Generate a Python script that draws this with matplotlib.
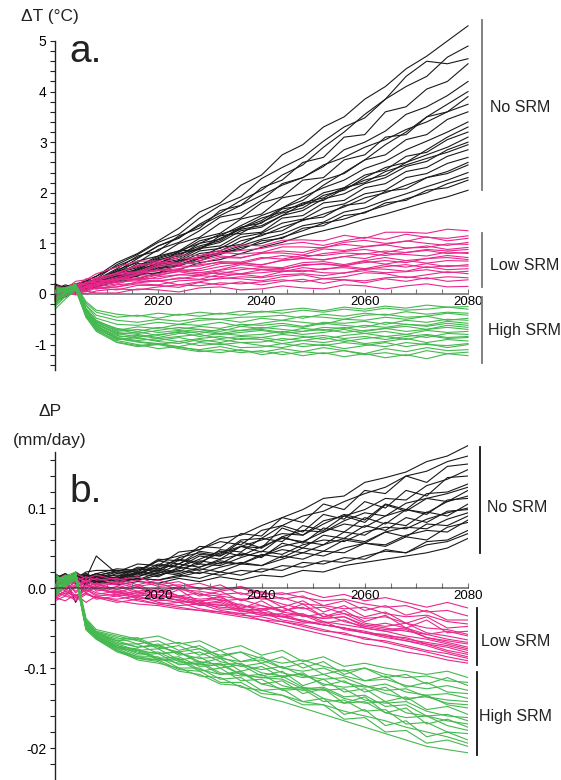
import matplotlib
matplotlib.use("Agg")
import matplotlib.pyplot as plt
from matplotlib.ticker import FixedLocator, FixedFormatter, MultipleLocator

plt.rcParams['font.family'] = ['Liberation Sans', 'DejaVu Sans']

# ---------------- data ----------------
years = [2000, 2002, 2004, 2006, 2008, 2012, 2016, 2020, 2024, 2028, 2032, 2036,
         2040, 2044, 2048, 2052, 2056, 2060, 2064, 2068, 2072, 2076, 2080]

# Panel a: temperature change (deg C)
dT_no_srm = [
    [0.05, 0.12, 0.18, 0.25, 0.35, 0.62, 0.80, 1.05, 1.30, 1.62, 1.80, 2.15, 2.35, 2.75, 2.95, 3.30, 3.50, 3.85, 4.10, 4.45, 4.70, 5.00, 5.30],
    [-0.05, 0.08, 0.15, 0.22, 0.30, 0.58, 0.78, 1.02, 1.18, 1.50, 1.75, 1.92, 2.28, 2.50, 2.70, 3.02, 3.30, 3.48, 3.85, 4.10, 4.30, 4.68, 4.90],
    [0.10, 0.15, 0.20, 0.18, 0.28, 0.50, 0.75, 0.85, 1.15, 1.30, 1.65, 1.75, 2.10, 2.25, 2.60, 2.70, 3.10, 3.15, 3.60, 3.70, 4.05, 4.20, 4.55],
    [-0.10, 0.02, 0.12, 0.20, 0.25, 0.48, 0.62, 0.88, 1.02, 1.25, 1.52, 1.60, 1.85, 2.18, 2.30, 2.52, 2.85, 3.00, 3.22, 3.55, 3.70, 3.92, 4.20],
    [0.00, 0.10, 0.05, 0.18, 0.30, 0.42, 0.65, 0.75, 1.00, 1.12, 1.40, 1.50, 1.80, 1.92, 2.25, 2.30, 2.65, 2.75, 3.10, 3.15, 3.50, 3.60, 3.90],
    [0.15, 0.10, 0.20, 0.25, 0.22, 0.45, 0.55, 0.75, 0.85, 1.10, 1.20, 1.48, 1.58, 1.90, 1.98, 2.25, 2.38, 2.65, 2.75, 3.05, 3.15, 3.45, 3.60],
    [-0.05, 0.05, 0.15, 0.10, 0.28, 0.42, 0.52, 0.70, 0.82, 1.05, 1.15, 1.35, 1.55, 1.70, 1.92, 2.10, 2.25, 2.48, 2.62, 2.85, 3.02, 3.20, 3.40],
    [0.05, 0.00, 0.10, 0.22, 0.20, 0.40, 0.48, 0.68, 0.75, 1.00, 1.08, 1.32, 1.40, 1.68, 1.75, 2.00, 2.10, 2.35, 2.45, 2.72, 2.80, 3.05, 3.20],
    [-0.15, -0.05, 0.08, 0.12, 0.25, 0.36, 0.45, 0.62, 0.72, 0.92, 1.02, 1.25, 1.32, 1.55, 1.65, 1.88, 1.98, 2.18, 2.30, 2.52, 2.62, 2.85, 3.00],
    [0.10, 0.18, 0.12, 0.20, 0.18, 0.35, 0.42, 0.60, 0.68, 0.90, 0.95, 1.18, 1.22, 1.50, 1.55, 1.80, 1.85, 2.10, 2.18, 2.42, 2.50, 2.72, 2.85],
    [0.00, 0.08, 0.15, 0.12, 0.20, 0.32, 0.40, 0.58, 0.65, 0.85, 0.90, 1.12, 1.20, 1.40, 1.48, 1.70, 1.78, 1.98, 2.05, 2.30, 2.38, 2.58, 2.70],
    [-0.10, 0.00, 0.05, 0.15, 0.18, 0.28, 0.42, 0.48, 0.66, 0.72, 0.92, 0.98, 1.18, 1.25, 1.47, 1.52, 1.75, 1.80, 2.03, 2.08, 2.30, 2.38, 2.55],
    [0.20, 0.12, 0.08, 0.15, 0.22, 0.30, 0.35, 0.52, 0.58, 0.72, 0.82, 0.95, 1.08, 1.18, 1.35, 1.42, 1.62, 1.70, 1.85, 1.98, 2.12, 2.25, 2.40],
    [0.05, 0.10, 0.02, 0.12, 0.15, 0.25, 0.38, 0.42, 0.58, 0.65, 0.82, 0.88, 1.05, 1.10, 1.30, 1.35, 1.55, 1.60, 1.80, 1.85, 2.05, 2.10, 2.25],
    [-0.05, 0.05, 0.10, 0.08, 0.15, 0.24, 0.30, 0.42, 0.48, 0.62, 0.68, 0.80, 0.92, 1.02, 1.15, 1.25, 1.35, 1.48, 1.58, 1.70, 1.82, 1.92, 2.05],
    [0.00, 0.05, 0.12, 0.20, 0.28, 0.45, 0.70, 0.95, 1.10, 1.38, 1.60, 1.85, 2.05, 2.35, 2.55, 2.90, 3.20, 3.55, 3.85, 4.30, 4.60, 4.55, 4.65],
    [0.08, 0.02, 0.10, 0.15, 0.12, 0.30, 0.48, 0.60, 0.78, 0.95, 1.05, 1.30, 1.45, 1.70, 1.85, 2.15, 2.40, 2.65, 2.95, 3.20, 3.50, 3.75, 4.00],
    [-0.08, 0.10, 0.18, 0.26, 0.35, 0.55, 0.72, 0.95, 1.12, 1.35, 1.55, 1.75, 1.95, 2.15, 2.30, 2.55, 2.70, 2.90, 3.05, 3.25, 3.40, 3.60, 3.75],
    [0.12, 0.05, 0.15, 0.20, 0.30, 0.38, 0.60, 0.58, 0.85, 0.88, 1.15, 1.20, 1.42, 1.60, 1.70, 1.95, 2.05, 2.30, 2.50, 2.60, 2.85, 3.10, 3.30],
    [-0.02, 0.08, 0.04, 0.18, 0.22, 0.34, 0.50, 0.66, 0.80, 0.88, 1.10, 1.28, 1.35, 1.55, 1.78, 1.85, 2.08, 2.25, 2.35, 2.60, 2.75, 2.90, 3.10],
    [0.18, 0.10, 0.12, 0.24, 0.28, 0.42, 0.55, 0.72, 0.85, 1.00, 1.18, 1.30, 1.50, 1.62, 1.80, 1.90, 2.10, 2.20, 2.42, 2.55, 2.68, 2.80, 2.95],
    [0.02, -0.06, 0.08, 0.10, 0.20, 0.26, 0.36, 0.55, 0.62, 0.80, 0.85, 1.05, 1.15, 1.32, 1.45, 1.58, 1.72, 1.90, 2.00, 2.15, 2.30, 2.42, 2.60],
    [-0.12, 0.02, 0.12, 0.06, 0.18, 0.28, 0.40, 0.50, 0.55, 0.70, 0.78, 0.92, 1.00, 1.12, 1.25, 1.40, 1.48, 1.62, 1.75, 1.88, 2.00, 2.18, 2.30],
]

dT_low_srm = [
    [0.05, 0.10, 0.25, 0.28, 0.40, 0.53, 0.65, 0.65, 0.77, 0.76, 0.86, 0.97, 0.95, 1.06, 1.07, 1.05, 1.16, 1.10, 1.22, 1.22, 1.20, 1.28, 1.25],
    [-0.10, 0.08, 0.15, 0.30, 0.30, 0.41, 0.57, 0.63, 0.61, 0.75, 0.82, 0.79, 0.82, 0.93, 0.93, 0.91, 1.02, 1.06, 1.00, 1.04, 1.13, 1.05, 1.10],
    [0.15, 0.12, 0.20, 0.18, 0.32, 0.41, 0.44, 0.59, 0.60, 0.60, 0.72, 0.71, 0.81, 0.81, 0.77, 0.89, 0.86, 0.93, 0.97, 0.91, 0.92, 0.99, 0.98],
    [0.00, 0.12, 0.10, 0.24, 0.22, 0.33, 0.44, 0.46, 0.55, 0.55, 0.64, 0.63, 0.72, 0.69, 0.76, 0.76, 0.81, 0.79, 0.85, 0.82, 0.88, 0.85, 0.88],
    [-0.05, 0.05, 0.18, 0.15, 0.26, 0.28, 0.40, 0.49, 0.45, 0.50, 0.60, 0.62, 0.57, 0.67, 0.71, 0.67, 0.74, 0.70, 0.80, 0.78, 0.75, 0.83, 0.80],
    [0.10, 0.05, 0.12, 0.20, 0.18, 0.26, 0.38, 0.36, 0.46, 0.42, 0.48, 0.58, 0.54, 0.52, 0.62, 0.64, 0.58, 0.66, 0.72, 0.66, 0.70, 0.76, 0.72],
    [-0.15, 0.02, 0.08, 0.14, 0.22, 0.30, 0.28, 0.38, 0.44, 0.38, 0.47, 0.52, 0.48, 0.48, 0.58, 0.59, 0.55, 0.65, 0.59, 0.66, 0.61, 0.66, 0.65],
    [0.05, 0.08, 0.05, 0.16, 0.14, 0.20, 0.31, 0.30, 0.38, 0.36, 0.44, 0.40, 0.48, 0.44, 0.52, 0.48, 0.55, 0.50, 0.58, 0.53, 0.60, 0.54, 0.58],
    [-0.08, 0.00, 0.12, 0.08, 0.18, 0.23, 0.29, 0.25, 0.32, 0.29, 0.39, 0.39, 0.34, 0.44, 0.47, 0.42, 0.41, 0.50, 0.49, 0.45, 0.54, 0.48, 0.50],
    [0.12, 0.06, 0.04, 0.12, 0.10, 0.14, 0.24, 0.26, 0.18, 0.24, 0.32, 0.30, 0.26, 0.34, 0.38, 0.30, 0.34, 0.42, 0.40, 0.32, 0.38, 0.44, 0.40],
    [-0.10, -0.04, 0.06, 0.04, 0.12, 0.08, 0.17, 0.17, 0.13, 0.23, 0.18, 0.24, 0.18, 0.25, 0.29, 0.21, 0.28, 0.22, 0.30, 0.25, 0.32, 0.25, 0.28],
    [0.00, 0.04, -0.02, 0.06, 0.02, 0.02, 0.10, 0.08, 0.04, 0.12, 0.14, 0.08, 0.10, 0.16, 0.12, 0.10, 0.18, 0.16, 0.10, 0.16, 0.20, 0.14, 0.15],
    [0.00, 0.08, 0.18, 0.22, 0.28, 0.42, 0.55, 0.60, 0.72, 0.70, 0.80, 0.86, 0.90, 0.98, 1.02, 0.96, 1.05, 1.12, 1.08, 1.18, 1.12, 1.10, 1.15],
    [0.08, 0.02, 0.10, 0.22, 0.26, 0.38, 0.42, 0.55, 0.58, 0.66, 0.75, 0.72, 0.80, 0.85, 0.82, 0.92, 0.98, 0.94, 0.98, 1.05, 1.00, 0.96, 1.02],
    [-0.12, -0.02, 0.06, 0.14, 0.20, 0.30, 0.40, 0.46, 0.50, 0.58, 0.62, 0.60, 0.70, 0.76, 0.72, 0.80, 0.84, 0.88, 0.82, 0.90, 0.95, 0.88, 0.92],
    [0.04, 0.10, 0.14, 0.12, 0.20, 0.28, 0.32, 0.40, 0.48, 0.46, 0.54, 0.60, 0.58, 0.66, 0.70, 0.68, 0.74, 0.80, 0.76, 0.82, 0.86, 0.80, 0.82],
    [-0.06, 0.02, 0.10, 0.08, 0.16, 0.24, 0.26, 0.34, 0.38, 0.42, 0.40, 0.48, 0.52, 0.50, 0.56, 0.60, 0.56, 0.62, 0.66, 0.62, 0.70, 0.72, 0.68],
    [0.10, 0.04, 0.06, 0.14, 0.10, 0.18, 0.22, 0.26, 0.30, 0.36, 0.34, 0.40, 0.42, 0.46, 0.44, 0.50, 0.52, 0.48, 0.54, 0.58, 0.52, 0.56, 0.55],
    [-0.04, 0.06, 0.02, 0.08, 0.12, 0.14, 0.20, 0.18, 0.26, 0.28, 0.30, 0.34, 0.32, 0.38, 0.40, 0.36, 0.42, 0.46, 0.42, 0.44, 0.48, 0.42, 0.45],
    [0.06, -0.02, 0.04, 0.00, 0.06, 0.10, 0.08, 0.14, 0.18, 0.16, 0.22, 0.20, 0.24, 0.28, 0.24, 0.30, 0.28, 0.26, 0.32, 0.34, 0.30, 0.34, 0.32],
]

dT_high_srm = [
    [0.10, 0.12, 0.18, -0.15, -0.32, -0.40, -0.44, -0.38, -0.42, -0.36, -0.40, -0.34, -0.36, -0.32, -0.28, -0.33, -0.26, -0.30, -0.24, -0.28, -0.22, -0.26, -0.25],
    [-0.10, 0.05, 0.15, -0.22, -0.42, -0.52, -0.56, -0.50, -0.54, -0.48, -0.50, -0.46, -0.45, -0.42, -0.48, -0.40, -0.44, -0.38, -0.42, -0.35, -0.40, -0.36, -0.38],
    [0.05, 0.10, 0.20, -0.30, -0.55, -0.72, -0.65, -0.68, -0.60, -0.62, -0.56, -0.64, -0.58, -0.52, -0.56, -0.60, -0.50, -0.52, -0.46, -0.50, -0.44, -0.52, -0.48],
    [-0.20, 0.00, 0.12, -0.28, -0.52, -0.70, -0.78, -0.72, -0.66, -0.70, -0.74, -0.64, -0.68, -0.62, -0.66, -0.58, -0.62, -0.66, -0.56, -0.60, -0.62, -0.54, -0.58],
    [0.15, 0.08, 0.16, -0.35, -0.60, -0.80, -0.75, -0.82, -0.74, -0.70, -0.78, -0.72, -0.70, -0.76, -0.68, -0.72, -0.66, -0.74, -0.68, -0.64, -0.70, -0.62, -0.66],
    [-0.05, 0.10, 0.18, -0.32, -0.58, -0.78, -0.85, -0.80, -0.76, -0.84, -0.78, -0.82, -0.80, -0.74, -0.80, -0.76, -0.70, -0.78, -0.74, -0.80, -0.72, -0.76, -0.74],
    [0.00, 0.06, 0.14, -0.38, -0.62, -0.85, -0.82, -0.88, -0.84, -0.80, -0.88, -0.84, -0.86, -0.80, -0.84, -0.90, -0.82, -0.78, -0.84, -0.80, -0.86, -0.78, -0.80],
    [-0.25, -0.05, 0.10, -0.40, -0.64, -0.82, -0.88, -0.92, -0.86, -0.94, -0.90, -0.96, -0.95, -0.88, -0.92, -0.86, -0.94, -0.88, -0.84, -0.90, -0.82, -0.88, -0.86],
    [0.08, 0.12, 0.16, -0.42, -0.68, -0.90, -0.86, -0.94, -0.98, -0.90, -0.96, -0.88, -0.90, -0.98, -0.92, -0.96, -0.90, -0.98, -0.94, -0.88, -0.96, -0.90, -0.93],
    [-0.15, 0.02, 0.12, -0.45, -0.66, -0.88, -0.95, -1.00, -0.94, -1.02, -0.98, -1.06, -1.05, -0.98, -1.04, -1.00, -1.08, -1.02, -0.96, -1.04, -0.98, -1.06, -1.00],
    [0.02, 0.08, 0.15, -0.40, -0.70, -0.95, -1.02, -0.98, -1.06, -1.10, -1.04, -1.12, -1.15, -1.08, -1.14, -1.06, -1.12, -1.18, -1.08, -1.14, -1.06, -1.12, -1.10],
    [-0.30, -0.10, 0.08, -0.44, -0.72, -0.92, -1.00, -1.08, -1.04, -1.12, -1.16, -1.10, -1.20, -1.14, -1.22, -1.16, -1.24, -1.18, -1.26, -1.20, -1.28, -1.18, -1.22],
    [0.05, 0.08, 0.16, -0.18, -0.36, -0.46, -0.42, -0.48, -0.40, -0.44, -0.38, -0.42, -0.34, -0.38, -0.32, -0.36, -0.30, -0.34, -0.28, -0.32, -0.30, -0.26, -0.30],
    [-0.18, 0.00, 0.14, -0.22, -0.48, -0.60, -0.62, -0.56, -0.60, -0.52, -0.50, -0.56, -0.48, -0.52, -0.44, -0.46, -0.50, -0.42, -0.40, -0.46, -0.44, -0.38, -0.42],
    [0.12, 0.10, 0.18, -0.28, -0.54, -0.68, -0.74, -0.66, -0.70, -0.64, -0.68, -0.60, -0.62, -0.58, -0.64, -0.56, -0.58, -0.54, -0.60, -0.52, -0.56, -0.50, -0.52],
    [-0.08, 0.04, 0.12, -0.30, -0.56, -0.74, -0.70, -0.76, -0.72, -0.78, -0.70, -0.72, -0.66, -0.70, -0.74, -0.66, -0.68, -0.62, -0.66, -0.60, -0.64, -0.58, -0.62],
    [0.02, 0.12, 0.14, -0.34, -0.60, -0.76, -0.80, -0.86, -0.78, -0.74, -0.80, -0.76, -0.72, -0.78, -0.74, -0.70, -0.76, -0.72, -0.68, -0.74, -0.70, -0.66, -0.70],
    [-0.12, 0.02, 0.10, -0.40, -0.64, -0.86, -0.92, -0.88, -0.94, -0.88, -0.84, -0.90, -0.86, -0.92, -0.86, -0.82, -0.88, -0.84, -0.90, -0.84, -0.80, -0.86, -0.84],
    [0.10, 0.06, 0.16, -0.42, -0.68, -0.88, -0.94, -0.98, -1.04, -0.96, -1.00, -0.96, -1.02, -1.06, -0.98, -1.02, -0.96, -1.00, -1.04, -0.96, -1.00, -1.02, -0.98],
    [-0.22, -0.04, 0.10, -0.46, -0.74, -0.96, -1.04, -1.00, -1.08, -1.14, -1.10, -1.16, -1.12, -1.20, -1.14, -1.18, -1.12, -1.20, -1.16, -1.22, -1.12, -1.18, -1.15],
]

# Panel b: precipitation change (mm/day)
dP_no_srm = [
    [0.010, 0.015, 0.008, 0.018, 0.012, 0.020, 0.030, 0.028, 0.045, 0.048, 0.062, 0.066, 0.078, 0.088, 0.098, 0.112, 0.115, 0.132, 0.138, 0.145, 0.158, 0.165, 0.178],
    [0.005, 0.012, 0.018, 0.010, 0.015, 0.022, 0.020, 0.036, 0.034, 0.052, 0.050, 0.068, 0.065, 0.088, 0.082, 0.105, 0.098, 0.122, 0.118, 0.140, 0.132, 0.152, 0.155],
    [0.015, 0.008, 0.012, 0.020, 0.022, 0.022, 0.020, 0.034, 0.030, 0.046, 0.042, 0.060, 0.062, 0.078, 0.070, 0.092, 0.086, 0.108, 0.100, 0.122, 0.115, 0.138, 0.140],
    [0.000, 0.010, 0.020, 0.012, 0.040, 0.018, 0.024, 0.022, 0.038, 0.044, 0.040, 0.058, 0.050, 0.075, 0.066, 0.080, 0.092, 0.085, 0.105, 0.098, 0.118, 0.120, 0.130],
    [0.012, 0.018, 0.010, 0.014, 0.008, 0.012, 0.024, 0.020, 0.035, 0.030, 0.048, 0.045, 0.062, 0.058, 0.078, 0.072, 0.090, 0.082, 0.104, 0.096, 0.112, 0.108, 0.122],
    [0.008, 0.004, 0.014, 0.018, 0.010, 0.018, 0.016, 0.028, 0.026, 0.040, 0.036, 0.052, 0.045, 0.064, 0.056, 0.075, 0.070, 0.088, 0.080, 0.098, 0.092, 0.110, 0.112],
    [0.018, 0.010, -0.018, 0.008, 0.012, 0.010, 0.020, 0.018, 0.030, 0.026, 0.036, 0.042, 0.040, 0.052, 0.058, 0.054, 0.070, 0.066, 0.082, 0.078, 0.095, 0.090, 0.105],
    [0.004, 0.012, 0.008, 0.016, 0.014, 0.016, 0.014, 0.024, 0.020, 0.034, 0.030, 0.044, 0.038, 0.056, 0.050, 0.066, 0.062, 0.078, 0.072, 0.088, 0.082, 0.096, 0.098],
    [0.010, 0.016, 0.012, 0.006, 0.012, 0.008, 0.018, 0.014, 0.026, 0.022, 0.032, 0.030, 0.042, 0.038, 0.050, 0.046, 0.060, 0.056, 0.070, 0.064, 0.080, 0.078, 0.090],
    [0.014, 0.008, 0.016, 0.012, 0.018, 0.012, 0.010, 0.020, 0.016, 0.024, 0.020, 0.030, 0.028, 0.040, 0.036, 0.046, 0.044, 0.056, 0.052, 0.064, 0.060, 0.076, 0.082],
    [0.006, 0.014, 0.010, 0.016, 0.008, 0.006, 0.012, 0.010, 0.016, 0.012, 0.020, 0.016, 0.024, 0.022, 0.032, 0.030, 0.038, 0.036, 0.048, 0.044, 0.058, 0.060, 0.072],
    [0.012, 0.006, 0.010, 0.004, 0.010, 0.004, 0.008, 0.006, 0.012, 0.008, 0.014, 0.010, 0.016, 0.014, 0.022, 0.020, 0.028, 0.032, 0.036, 0.040, 0.044, 0.050, 0.062],
    [0.014, 0.008, 0.016, 0.012, 0.018, 0.024, 0.022, 0.034, 0.040, 0.048, 0.058, 0.054, 0.072, 0.078, 0.090, 0.096, 0.108, 0.118, 0.126, 0.140, 0.146, 0.158, 0.165],
    [0.002, 0.010, 0.006, 0.014, 0.010, 0.014, 0.026, 0.024, 0.030, 0.042, 0.040, 0.052, 0.060, 0.068, 0.066, 0.084, 0.090, 0.098, 0.112, 0.110, 0.128, 0.136, 0.148],
    [0.016, 0.012, 0.018, 0.010, 0.016, 0.020, 0.018, 0.026, 0.036, 0.032, 0.044, 0.052, 0.050, 0.064, 0.072, 0.070, 0.084, 0.094, 0.090, 0.106, 0.112, 0.118, 0.126],
    [0.008, 0.016, 0.012, 0.004, 0.014, 0.012, 0.018, 0.030, 0.026, 0.036, 0.046, 0.040, 0.052, 0.062, 0.058, 0.070, 0.080, 0.076, 0.090, 0.098, 0.094, 0.108, 0.115],
    [0.010, 0.004, 0.012, 0.016, 0.006, 0.012, 0.020, 0.016, 0.024, 0.030, 0.028, 0.038, 0.046, 0.042, 0.054, 0.060, 0.058, 0.070, 0.076, 0.074, 0.086, 0.094, 0.100],
    [0.016, 0.010, 0.006, 0.014, 0.018, 0.010, 0.014, 0.022, 0.018, 0.026, 0.034, 0.030, 0.040, 0.048, 0.044, 0.054, 0.062, 0.058, 0.070, 0.076, 0.074, 0.086, 0.094],
    [0.006, 0.012, 0.016, 0.010, 0.006, 0.014, 0.010, 0.016, 0.022, 0.018, 0.026, 0.032, 0.028, 0.036, 0.044, 0.040, 0.050, 0.056, 0.054, 0.066, 0.072, 0.070, 0.085],
    [0.012, 0.018, 0.008, 0.012, 0.016, 0.008, 0.012, 0.010, 0.014, 0.020, 0.016, 0.022, 0.020, 0.028, 0.026, 0.034, 0.032, 0.040, 0.046, 0.044, 0.054, 0.058, 0.068],
]

dP_low_srm = [
    [0.010, 0.016, 0.008, 0.014, 0.010, 0.012, 0.004, 0.010, 0.002, 0.006, -0.002, 0.002, -0.006, -0.008, -0.004, -0.012, -0.008, -0.016, -0.012, -0.018, -0.024, -0.018, -0.025],
    [0.015, 0.008, 0.018, 0.012, 0.016, 0.010, 0.014, 0.004, 0.008, -0.002, 0.004, -0.008, -0.004, -0.014, -0.010, -0.022, -0.016, -0.028, -0.022, -0.034, -0.028, -0.040, -0.040],
    [0.005, -0.004, 0.010, 0.002, 0.006, -0.002, 0.004, -0.006, 0.000, -0.010, -0.004, -0.016, -0.010, -0.024, -0.016, -0.030, -0.022, -0.036, -0.030, -0.044, -0.036, -0.050, -0.048],
    [0.000, 0.010, -0.006, 0.004, -0.002, -0.006, 0.002, -0.012, -0.002, -0.018, -0.010, -0.026, -0.016, -0.030, -0.020, -0.036, -0.028, -0.042, -0.034, -0.050, -0.040, -0.056, -0.054],
    [-0.005, 0.004, -0.010, -0.002, -0.008, -0.004, -0.014, -0.010, -0.012, -0.020, -0.016, -0.026, -0.028, -0.024, -0.036, -0.032, -0.042, -0.048, -0.044, -0.050, -0.058, -0.054, -0.060],
    [0.008, 0.002, 0.012, 0.000, 0.006, 0.004, -0.004, 0.000, -0.010, -0.006, -0.016, -0.014, -0.022, -0.028, -0.024, -0.036, -0.032, -0.044, -0.048, -0.044, -0.056, -0.060, -0.065],
    [-0.010, -0.004, -0.012, -0.002, -0.010, -0.008, -0.012, -0.016, -0.014, -0.022, -0.020, -0.030, -0.026, -0.036, -0.034, -0.044, -0.040, -0.050, -0.054, -0.052, -0.062, -0.066, -0.070],
    [0.004, 0.012, 0.000, 0.008, -0.004, 0.002, -0.006, -0.002, -0.010, -0.014, -0.012, -0.022, -0.026, -0.024, -0.034, -0.038, -0.036, -0.048, -0.052, -0.050, -0.062, -0.068, -0.074],
    [-0.014, -0.006, -0.016, -0.008, -0.012, -0.014, -0.010, -0.018, -0.022, -0.020, -0.028, -0.032, -0.030, -0.040, -0.044, -0.042, -0.052, -0.056, -0.058, -0.064, -0.068, -0.072, -0.078],
    [0.000, -0.008, 0.004, -0.006, 0.002, -0.004, -0.010, -0.008, -0.016, -0.020, -0.018, -0.028, -0.034, -0.032, -0.042, -0.046, -0.050, -0.056, -0.060, -0.066, -0.070, -0.078, -0.083],
    [-0.008, 0.000, -0.012, -0.006, -0.014, -0.010, -0.016, -0.020, -0.018, -0.026, -0.030, -0.032, -0.040, -0.042, -0.048, -0.054, -0.056, -0.064, -0.066, -0.072, -0.078, -0.082, -0.088],
    [-0.012, -0.016, -0.008, -0.018, -0.010, -0.016, -0.020, -0.022, -0.026, -0.028, -0.032, -0.036, -0.040, -0.046, -0.052, -0.058, -0.064, -0.070, -0.074, -0.080, -0.084, -0.090, -0.094],
    [0.012, 0.006, 0.014, 0.008, 0.012, 0.006, 0.010, 0.002, 0.004, 0.000, -0.004, 0.000, -0.008, -0.006, -0.012, -0.016, -0.014, -0.020, -0.024, -0.022, -0.030, -0.028, -0.035],
    [-0.006, 0.004, 0.000, 0.010, 0.004, 0.008, 0.002, 0.006, -0.002, -0.004, -0.008, -0.006, -0.014, -0.012, -0.020, -0.022, -0.026, -0.024, -0.032, -0.036, -0.034, -0.042, -0.045],
    [0.010, 0.014, 0.004, 0.010, 0.002, 0.006, 0.000, -0.004, 0.002, -0.008, -0.010, -0.014, -0.012, -0.020, -0.026, -0.024, -0.032, -0.038, -0.036, -0.044, -0.050, -0.052, -0.058],
    [-0.004, -0.010, 0.002, -0.004, 0.004, -0.002, -0.008, -0.004, -0.012, -0.016, -0.014, -0.024, -0.022, -0.030, -0.034, -0.038, -0.036, -0.046, -0.050, -0.054, -0.058, -0.064, -0.068],
    [0.002, 0.008, -0.004, 0.004, 0.000, -0.008, -0.004, -0.012, -0.010, -0.018, -0.022, -0.020, -0.030, -0.034, -0.032, -0.042, -0.046, -0.050, -0.054, -0.060, -0.064, -0.070, -0.076],
    [-0.012, -0.004, -0.010, 0.000, -0.006, -0.010, -0.006, -0.014, -0.018, -0.016, -0.026, -0.028, -0.034, -0.036, -0.042, -0.046, -0.050, -0.054, -0.060, -0.062, -0.070, -0.074, -0.081],
    [0.006, -0.002, 0.008, -0.004, 0.000, -0.006, -0.010, -0.008, -0.016, -0.020, -0.024, -0.026, -0.032, -0.036, -0.040, -0.046, -0.050, -0.056, -0.062, -0.066, -0.072, -0.080, -0.086],
    [-0.016, -0.010, -0.014, -0.006, -0.012, -0.018, -0.014, -0.020, -0.024, -0.028, -0.030, -0.034, -0.036, -0.042, -0.046, -0.052, -0.058, -0.062, -0.068, -0.074, -0.080, -0.086, -0.091],
]

dP_high_srm = [
    [0.010, 0.015, 0.020, -0.038, -0.052, -0.058, -0.064, -0.060, -0.070, -0.066, -0.078, -0.072, -0.084, -0.078, -0.092, -0.086, -0.098, -0.094, -0.100, -0.104, -0.108, -0.104, -0.112],
    [-0.005, 0.008, 0.016, -0.042, -0.055, -0.062, -0.070, -0.066, -0.078, -0.072, -0.086, -0.080, -0.094, -0.086, -0.100, -0.092, -0.108, -0.100, -0.112, -0.108, -0.120, -0.112, -0.122],
    [0.015, 0.010, 0.018, -0.040, -0.056, -0.066, -0.064, -0.076, -0.072, -0.084, -0.078, -0.092, -0.086, -0.100, -0.094, -0.108, -0.102, -0.116, -0.110, -0.124, -0.118, -0.130, -0.132],
    [0.000, 0.012, 0.014, -0.044, -0.058, -0.066, -0.074, -0.072, -0.082, -0.088, -0.086, -0.096, -0.102, -0.098, -0.110, -0.114, -0.112, -0.122, -0.128, -0.126, -0.136, -0.140, -0.142],
    [0.018, 0.006, 0.020, -0.046, -0.057, -0.070, -0.070, -0.082, -0.080, -0.094, -0.088, -0.104, -0.098, -0.112, -0.106, -0.122, -0.116, -0.130, -0.124, -0.140, -0.134, -0.146, -0.150],
    [-0.008, 0.004, 0.012, -0.043, -0.060, -0.072, -0.078, -0.076, -0.090, -0.086, -0.100, -0.096, -0.110, -0.104, -0.122, -0.114, -0.130, -0.126, -0.142, -0.136, -0.152, -0.148, -0.158],
    [0.006, 0.014, 0.016, -0.048, -0.059, -0.074, -0.076, -0.088, -0.086, -0.098, -0.096, -0.108, -0.112, -0.114, -0.126, -0.124, -0.136, -0.134, -0.148, -0.146, -0.160, -0.158, -0.166],
    [-0.010, 0.002, 0.010, -0.045, -0.062, -0.074, -0.084, -0.082, -0.096, -0.094, -0.108, -0.104, -0.120, -0.116, -0.132, -0.126, -0.144, -0.136, -0.156, -0.150, -0.170, -0.164, -0.174],
    [0.012, 0.010, 0.018, -0.050, -0.060, -0.076, -0.078, -0.090, -0.090, -0.104, -0.100, -0.116, -0.114, -0.128, -0.126, -0.142, -0.140, -0.154, -0.152, -0.170, -0.168, -0.180, -0.182],
    [-0.004, 0.006, 0.012, -0.047, -0.063, -0.078, -0.086, -0.086, -0.100, -0.100, -0.114, -0.112, -0.128, -0.126, -0.142, -0.138, -0.158, -0.152, -0.172, -0.166, -0.186, -0.180, -0.190],
    [0.004, 0.016, 0.014, -0.050, -0.062, -0.078, -0.088, -0.090, -0.102, -0.104, -0.118, -0.118, -0.132, -0.134, -0.146, -0.146, -0.164, -0.162, -0.180, -0.178, -0.194, -0.190, -0.198],
    [-0.006, 0.008, 0.016, -0.052, -0.064, -0.080, -0.088, -0.092, -0.104, -0.108, -0.120, -0.122, -0.136, -0.142, -0.150, -0.158, -0.166, -0.174, -0.182, -0.190, -0.198, -0.202, -0.206],
    [0.006, 0.012, 0.018, -0.040, -0.054, -0.060, -0.066, -0.072, -0.068, -0.076, -0.084, -0.080, -0.088, -0.094, -0.090, -0.098, -0.104, -0.100, -0.108, -0.112, -0.110, -0.116, -0.118],
    [-0.002, 0.010, 0.014, -0.041, -0.056, -0.064, -0.062, -0.074, -0.080, -0.076, -0.088, -0.092, -0.090, -0.100, -0.104, -0.100, -0.110, -0.116, -0.114, -0.122, -0.126, -0.122, -0.128],
    [0.014, 0.004, 0.016, -0.044, -0.057, -0.068, -0.074, -0.070, -0.084, -0.080, -0.092, -0.098, -0.094, -0.106, -0.112, -0.108, -0.118, -0.124, -0.120, -0.130, -0.134, -0.132, -0.138],
    [-0.006, 0.008, 0.018, -0.046, -0.059, -0.070, -0.078, -0.082, -0.080, -0.092, -0.096, -0.094, -0.106, -0.110, -0.108, -0.120, -0.124, -0.122, -0.132, -0.138, -0.136, -0.144, -0.146],
    [0.008, 0.012, 0.016, -0.048, -0.060, -0.072, -0.082, -0.080, -0.092, -0.096, -0.094, -0.108, -0.112, -0.110, -0.124, -0.128, -0.126, -0.140, -0.144, -0.142, -0.154, -0.160, -0.162],
    [-0.010, 0.006, 0.014, -0.049, -0.061, -0.074, -0.080, -0.088, -0.094, -0.092, -0.106, -0.110, -0.108, -0.122, -0.128, -0.126, -0.138, -0.144, -0.142, -0.156, -0.160, -0.166, -0.170],
    [0.002, 0.014, 0.012, -0.050, -0.062, -0.076, -0.086, -0.090, -0.088, -0.102, -0.108, -0.106, -0.120, -0.126, -0.124, -0.138, -0.144, -0.142, -0.156, -0.162, -0.160, -0.172, -0.178],
    [-0.008, 0.004, 0.012, -0.052, -0.064, -0.078, -0.090, -0.094, -0.100, -0.110, -0.112, -0.124, -0.128, -0.134, -0.142, -0.146, -0.154, -0.160, -0.166, -0.174, -0.180, -0.186, -0.194],
]

group_labels = ["No SRM", "Low SRM", "High SRM"]
temp_yticks = [-1, 0, 1, 2, 3, 4, 5]
temp_yticklabels = ["-1", "0", "1", "2", "3", "4", "5"]
precip_yticks = [-0.2, -0.1, 0.0, 0.1]
precip_yticklabels = ["-02", "-0.1", "0.0", "0.1"]
xticks = [2020, 2040, 2060, 2080]

# ---------------- style ----------------
W, H = 561, 780
C_BLACK = '#1a1a1a'
C_PINK = '#e8288c'
C_GREEN = '#45b84f'
LW = 0.8

fig = plt.figure(figsize=(W / 100, H / 100), dpi=100)


def px_axes(left, right, top_px, bottom_px):
    return fig.add_axes([left / W, 1 - bottom_px / H, (right - left) / W, (bottom_px - top_px) / H])


def style_axes(ax, ylo, yhi, major, labels, minor, spine_color, spine_alpha, spine_z):
    for s in ['top', 'right']:
        ax.spines[s].set_visible(False)
    ax.spines['left'].set_bounds(ylo, yhi)
    ax.spines['left'].set_linewidth(1.0)
    ax.spines['left'].set_color('#222222')
    ax.spines['bottom'].set_position(('data', 0))
    ax.spines['bottom'].set_bounds(2000, 2080)
    ax.spines['bottom'].set_color(spine_color)
    ax.spines['bottom'].set_alpha(spine_alpha)
    ax.spines['bottom'].set_linewidth(1.4)
    ax.spines['bottom'].set_zorder(spine_z)
    ax.set_axisbelow(False)
    ax.yaxis.set_major_locator(FixedLocator(major))
    ax.yaxis.set_major_formatter(FixedFormatter(labels))
    ax.yaxis.set_minor_locator(FixedLocator(minor))
    ax.tick_params(axis='y', which='both', direction='out', length=3.5, width=0.8,
                   color='#222222', labelsize=10, pad=2.5)
    ax.xaxis.set_major_locator(FixedLocator(xticks))
    ax.xaxis.set_minor_locator(MultipleLocator(5))
    ax.tick_params(axis='x', which='both', direction='in', length=3.5, width=0.8,
                   color='#777777', labelsize=9.5, pad=1.5)
    ax.set_xlim(2000, 2080)
    ax.patch.set_visible(False)


# Panel a
axa = px_axes(55, 468, 15.7, 372.4)
axa.set_ylim(-1.55, 5.5)
for series, col in [(dT_no_srm, C_BLACK), (dT_low_srm, C_PINK), (dT_high_srm, C_GREEN)]:
    for ln in series:
        axa.plot(years, ln, color=col, lw=LW, zorder=2, clip_on=False)
style_axes(axa, -1.5, 5.0, temp_yticks, temp_yticklabels,
           [v / 10 for v in range(-14, 50, 2)], '#888888', 1.0, 1)

# Panel b
axb = px_axes(55, 468, 436, 780)
axb.set_ylim(-0.24, 0.19)
for series, col in [(dP_no_srm, C_BLACK), (dP_low_srm, C_PINK), (dP_high_srm, C_GREEN)]:
    for ln in series:
        axb.plot(years, ln, color=col, lw=LW, zorder=2, clip_on=True)
style_axes(axb, -0.24, 0.17, precip_yticks, precip_yticklabels,
           [v / 100 for v in range(-22, 18, 2)], '#333333', 0.6, 3)


def ftext(x, y, s, size, ha='left', va='center'):
    fig.text(x / W, 1 - y / H, s, fontsize=size, ha=ha, va=va, color='#222222')


def bracket(x, y0, y1, color):
    fig.add_artist(plt.Line2D([x / W, x / W], [1 - y0 / H, 1 - y1 / H],
                              color=color, lw=1.3, transform=fig.transFigure))


# titles / panel letters
ftext(50, 17, "ΔT (°C)", 12.5, ha='center')
ftext(69, 52, "a.", 28)
ftext(50, 412, "ΔP", 12.5, ha='center')
ftext(50, 440, "(mm/day)", 12.5, ha='center')
ftext(69, 492, "b.", 28)

# group brackets panel a
bracket(482, 20, 190, '#777777')
ftext(490, 108, group_labels[0], 11.5)
bracket(482, 233, 287, '#777777')
ftext(490, 265, group_labels[1], 11.5)
bracket(482, 297, 363, '#777777')
ftext(488, 330, group_labels[2], 11.5)

# group brackets panel b
bracket(480, 447, 553, '#111111')
ftext(487, 508, group_labels[0], 11.5)
bracket(477, 608, 665, '#111111')
ftext(481, 642, group_labels[1], 11.5)
bracket(477, 672, 755, '#111111')
ftext(479, 716, group_labels[2], 11.5)

fig.savefig("out.png", dpi=100)
